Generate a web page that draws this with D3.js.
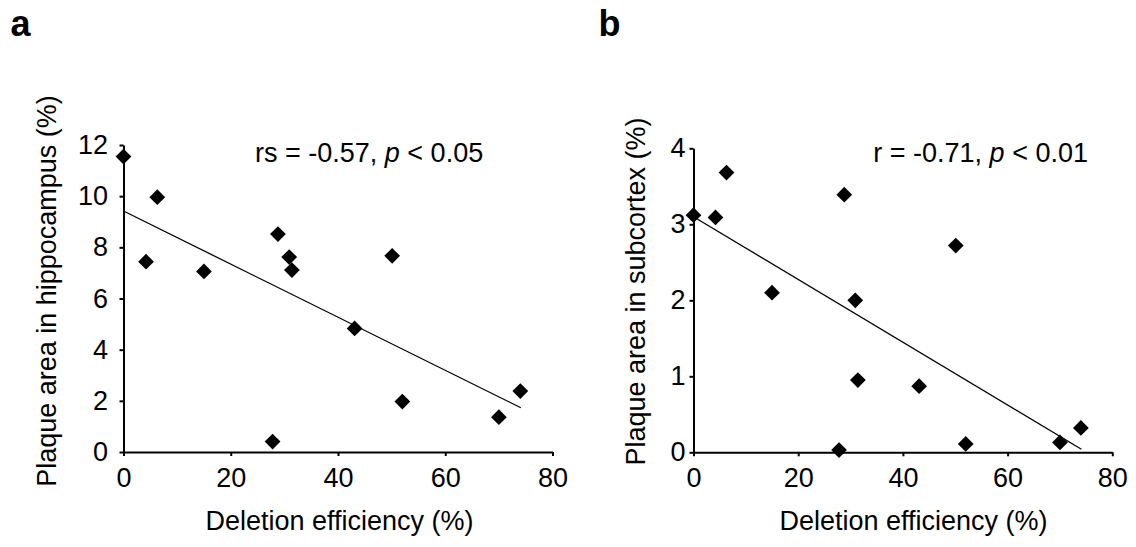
<!DOCTYPE html>
<html>
<head>
<meta charset="utf-8">
<script src="https://cdn.jsdelivr.net/npm/d3@7"></script>
<style>
  html, body { margin: 0; padding: 0; background: #fff; }
  svg { display: block; font-family: "Liberation Sans", Arial, sans-serif; }
</style>
</head>
<body>
<svg id="chart" width="1136" height="547"></svg>
<script>
// ---- data ----
const deletionEfficiency = [0, 4.2, 6.3, 15.0, 27.8, 28.8, 30.9, 31.4, 43.1, 50.1, 52.0, 70.0, 74.0];
const hippocampusPlaque  = [11.55, 7.44, 9.96, 7.06, 0.41, 8.52, 7.62, 7.11, 4.83, 7.67, 1.97, 1.36, 2.38];
const subcortexPlaque    = [3.12, 3.09, 3.68, 2.10, 0.03, 3.39, 2.00, 0.95, 0.87, 2.72, 0.11, 0.13, 0.32];
const trendA = [[0, 9.42], [74.1, 1.73]];
const trendB = [[0, 3.10], [74.1, 0.04]];
const xTicks  = [0, 20, 40, 60, 80];
const yTicksA = [0, 2, 4, 6, 8, 10, 12];
const yTicksB = [0, 1, 2, 3, 4];
const xTitle = "Deletion efficiency (%)";
const yTitleA = "Plaque area in hippocampus (%)";
const yTitleB = "Plaque area in subcortex (%)";
const statA = { lead: "rs = -0.57, ", p: "p", tail: " < 0.05" };
const statB = { lead: "r = -0.71, ", p: "p", tail: " < 0.01" };

const svg = d3.select("#chart");
const FS = 27;
const fmt = d3.format("d");

function panel(cfg) {
  const x = d3.scaleLinear().domain([0, 80]).range(cfg.xr);
  const y = d3.scaleLinear().domain(cfg.yd).range(cfg.yr);
  const g = svg.append("g");

  // axes
  const ax = g.append("g").attr("transform", `translate(0,${cfg.yr[0]})`)
    .call(d3.axisBottom(x).tickValues(xTicks).tickFormat(fmt).tickSize(4).tickSizeOuter(0).tickPadding(12));
  const ay = g.append("g").attr("transform", `translate(${cfg.xr[0]},0)`)
    .call(d3.axisLeft(y).tickValues(cfg.yTicks).tickFormat(fmt).tickSize(4).tickSizeOuter(0).tickPadding(cfg.yPad));
  [ax, ay].forEach(a => {
    a.select(".domain").attr("stroke", "#000").attr("stroke-width", 2);
    a.selectAll(".tick line").attr("stroke", "#000").attr("stroke-width", 2);
    a.selectAll(".tick text").attr("fill", "#000")
      .style("font-family", '"Liberation Sans", Arial, sans-serif').style("font-size", FS + "px");
  });

  // trend line
  g.append("path")
    .datum(cfg.trend)
    .attr("d", d3.line().x(d => x(d[0])).y(d => y(d[1])))
    .attr("fill", "none").attr("stroke", "#000").attr("stroke-width", 1.3);

  // diamonds
  const sym = d3.symbol().type(d3.symbolSquare).size(124);
  g.selectAll("path.pt")
    .data(deletionEfficiency.map((v, i) => [v, cfg.ys[i]]))
    .join("path").attr("class", "pt")
    .attr("d", sym)
    .attr("transform", d => `translate(${x(d[0])},${y(d[1])}) rotate(45)`)
    .attr("fill", "#000");

  // x title
  g.append("text").attr("x", cfg.xtx).attr("y", 530).attr("text-anchor", "middle")
    .style("font-size", FS + "px").text(xTitle);
  // y title
  g.append("text").attr("transform", `translate(${cfg.ytx},${cfg.yty}) rotate(-90)`)
    .attr("text-anchor", "middle").style("font-size", FS + "px").text(cfg.yTitle);
  // stats annotation
  const t = g.append("text").attr("x", cfg.sx).attr("y", 161.7).style("font-size", FS + "px");
  t.append("tspan").text(cfg.stat.lead);
  t.append("tspan").style("font-style", "italic").text(cfg.stat.p);
  t.append("tspan").text(cfg.stat.tail);
  // panel letter
  g.append("text").attr("x", cfg.lx).attr("y", 35.5).style("font-size", "36px")
    .style("font-weight", "bold").text(cfg.letter);
}

panel({ xr: [123.5, 552.5], yr: [452, 145], yd: [0, 12], yTicks: yTicksA, yPad: 11.5,
        ys: hippocampusPlaque, trend: trendA, xtx: 339.5, ytx: 56, yty: 291, yTitle: yTitleA,
        stat: statA, sx: 255, lx: 10.5, letter: "a" });
panel({ xr: [693.5, 1112.3], yr: [452.3, 148.3], yd: [0, 4], yTicks: yTicksB, yPad: 4,
        ys: subcortexPlaque, trend: trendB, xtx: 913.5, ytx: 644.5, yty: 291.5, yTitle: yTitleB,
        stat: statB, sx: 873.3, lx: 598.5, letter: "b" });
</script>
</body>
</html>
